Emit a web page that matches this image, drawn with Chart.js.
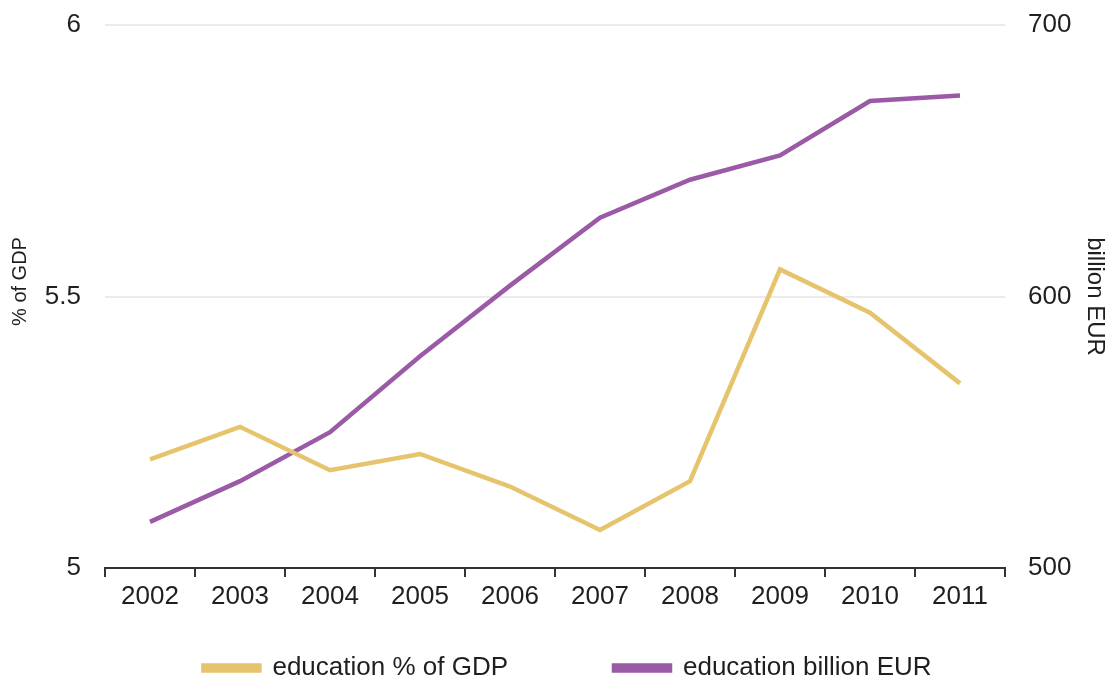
<!DOCTYPE html>
<html>
<head>
<meta charset="utf-8">
<script src="https://cdn.jsdelivr.net/npm/chart.js@4.4.1/dist/chart.umd.min.js"></script>
<style>
  html, body { margin: 0; padding: 0; background: #fff; }
  #wrap { width: 1109px; height: 679px; }
</style>
</head>
<body>
<div id="wrap"><canvas id="chart"></canvas></div>
<script>
// education spending, 2002-2011
const YEARS = ['2002', '2003', '2004', '2005', '2006', '2007', '2008', '2009', '2010', '2011'];
const PCT_OF_GDP = [5.20, 5.26, 5.18, 5.21, 5.15, 5.07, 5.16, 5.55, 5.47, 5.34];
const BILLION_EUR = [517, 532, 550, 578, 604, 629, 643, 652, 672, 674];
const LEFT_TICKS = [5, 5.5, 6];
const RIGHT_TICKS = [500, 600, 700];

const GOLD = '#e6c36d';
const PURPLE = '#9b5aa6';
const TEXT = '#1f1f1f';

Chart.defaults.font.family = '"Liberation Sans", Arial, sans-serif';
Chart.defaults.color = TEXT;

// widen the first legend item so the second one sits where it does in the original
const SPACER = '\u2003\u2003\u2003\u2003';

new Chart(document.getElementById('chart'), {
    type: 'line',
    data: {
        labels: YEARS,
        datasets: [
            {
                label: 'education % of GDP',
                data: PCT_OF_GDP,
                borderColor: GOLD,
                backgroundColor: GOLD,
                borderWidth: 4.5,
                pointRadius: 0,
                tension: 0,
                yAxisID: 'y',
            },
            {
                label: 'education billion EUR',
                data: BILLION_EUR,
                borderColor: PURPLE,
                backgroundColor: PURPLE,
                borderWidth: 4.5,
                pointRadius: 0,
                tension: 0,
                yAxisID: 'y1',
            },
        ],
    },
    options: {
        responsive: true,
        maintainAspectRatio: false,
        animation: false,
        events: [],
        layout: { padding: { left: 26, right: 0, top: 25, bottom: -12 } },
        plugins: {
            tooltip: { enabled: false },
            legend: {
                position: 'bottom',
                labels: {
                    boxWidth: 56,
                    boxHeight: 5,
                    padding: 2,
                    color: TEXT,
                    font: { size: 26 },
                    generateLabels: (chart) =>
                        Chart.defaults.plugins.legend.labels.generateLabels(chart).map((item, i) =>
                            i === 0 ? { ...item, text: item.text + SPACER } : item),
                },
            },
        },
        scales: {
            x: {
                offset: true,
                grid: {
                    offset: true,
                    drawOnChartArea: false,
                    drawTicks: true,
                    tickLength: 9,
                    color: '#333',
                    lineWidth: 2,
                },
                border: { display: true, color: '#333', width: 2 },
                ticks: { padding: 4, font: { size: 26 }, color: TEXT, maxRotation: 0 },
                afterFit: (s) => { s.height = 85; },
            },
            y: {
                position: 'left',
                min: 5,
                max: 6,
                afterBuildTicks: (s) => { s.ticks = LEFT_TICKS.map((v) => ({ value: v })); },
                ticks: { padding: 0, font: { size: 26 }, color: TEXT, callback: (v) => String(v) },
                grid: {
                    drawTicks: true,
                    tickLength: 24,
                    tickColor: 'rgba(0,0,0,0)',
                    color: (ctx) => (ctx.tick && ctx.tick.value === 5 ? 'rgba(0,0,0,0)' : '#ebebeb'),
                    lineWidth: 2,
                },
                border: { display: false },
                title: { display: true, text: '\u2003\u2002% of GDP', font: { size: 20 }, color: TEXT, padding: { top: -18, bottom: 0 } },
                afterFit: (s) => { s.width = 79; },
            },
            y1: {
                position: 'right',
                min: 500,
                max: 700,
                afterBuildTicks: (s) => { s.ticks = RIGHT_TICKS.map((v) => ({ value: v })); },
                ticks: { padding: 0, font: { size: 26 }, color: TEXT, callback: (v) => String(v) },
                grid: { drawOnChartArea: false, drawTicks: true, tickLength: 23, tickColor: 'rgba(0,0,0,0)' },
                border: { display: false },
                title: { display: true, text: 'billion EUR', font: { size: 24 }, color: TEXT, padding: { top: 0, bottom: 0 } },
                afterFit: (s) => { s.width = 104; },
            },
        },
    },
});
</script>
</body>
</html>
